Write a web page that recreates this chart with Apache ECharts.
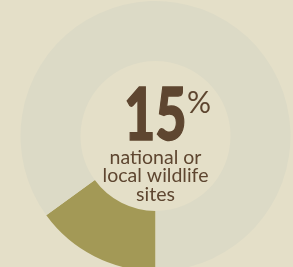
<!DOCTYPE html>
<html>
<head>
    <meta charset="utf-8">
    <title>Wildlife sites</title>
    <script src="https://cdn.jsdelivr.net/npm/echarts@6/dist/echarts.min.js"></script>
    <style>
        html, body { margin: 0; padding: 0; background: #e4dfc8; }
        #chart { width: 293px; height: 267px; }
    </style>
</head>
<body>
    <div id="chart"></div>
    <script>
        // data
        var categories = ['national or local wildlife sites', 'other'];
        var values = [15, 85];
        var headline = '15';
        var captionLines = ['national or', 'local wildlife', 'sites'];

        var chart = echarts.init(document.getElementById('chart'));
        var option = {
            backgroundColor: '#e4dfc8',
            animation: false,
            color: ['#a39956', '#dcdac6'],
            series: [{
                type: 'pie',
                silent: true,
                center: [155.5, 136],
                radius: [75, 135],
                startAngle: 270,
                clockwise: true,
                label: { show: false },
                labelLine: { show: false },
                data: categories.map(function (c, i) {
                    return { name: c, value: values[i] };
                })
            }],
            graphic: [
                {
                    type: 'text',
                    x: 124,
                    y: 81,
                    scaleX: 0.75,
                    style: {
                        text: headline,
                        font: '900 72px Lato',
                        fill: '#5e4630',
                        stroke: '#5e4630',
                        lineWidth: 1.5
                    }
                },
                {
                    type: 'text',
                    x: 187,
                    y: 88,
                    style: {
                        text: '%',
                        font: '30px Lato',
                        fill: '#5e4630'
                    }
                },
                {
                    type: 'text',
                    x: 155.5,
                    y: 148,
                    style: {
                        text: captionLines.join('\n'),
                        font: '19.5px Lato',
                        lineHeight: 18.5,
                        align: 'center',
                        verticalAlign: 'top',
                        fill: '#5e4630'
                    }
                }
            ]
        };
        chart.setOption(option);
    </script>
</body>
</html>
